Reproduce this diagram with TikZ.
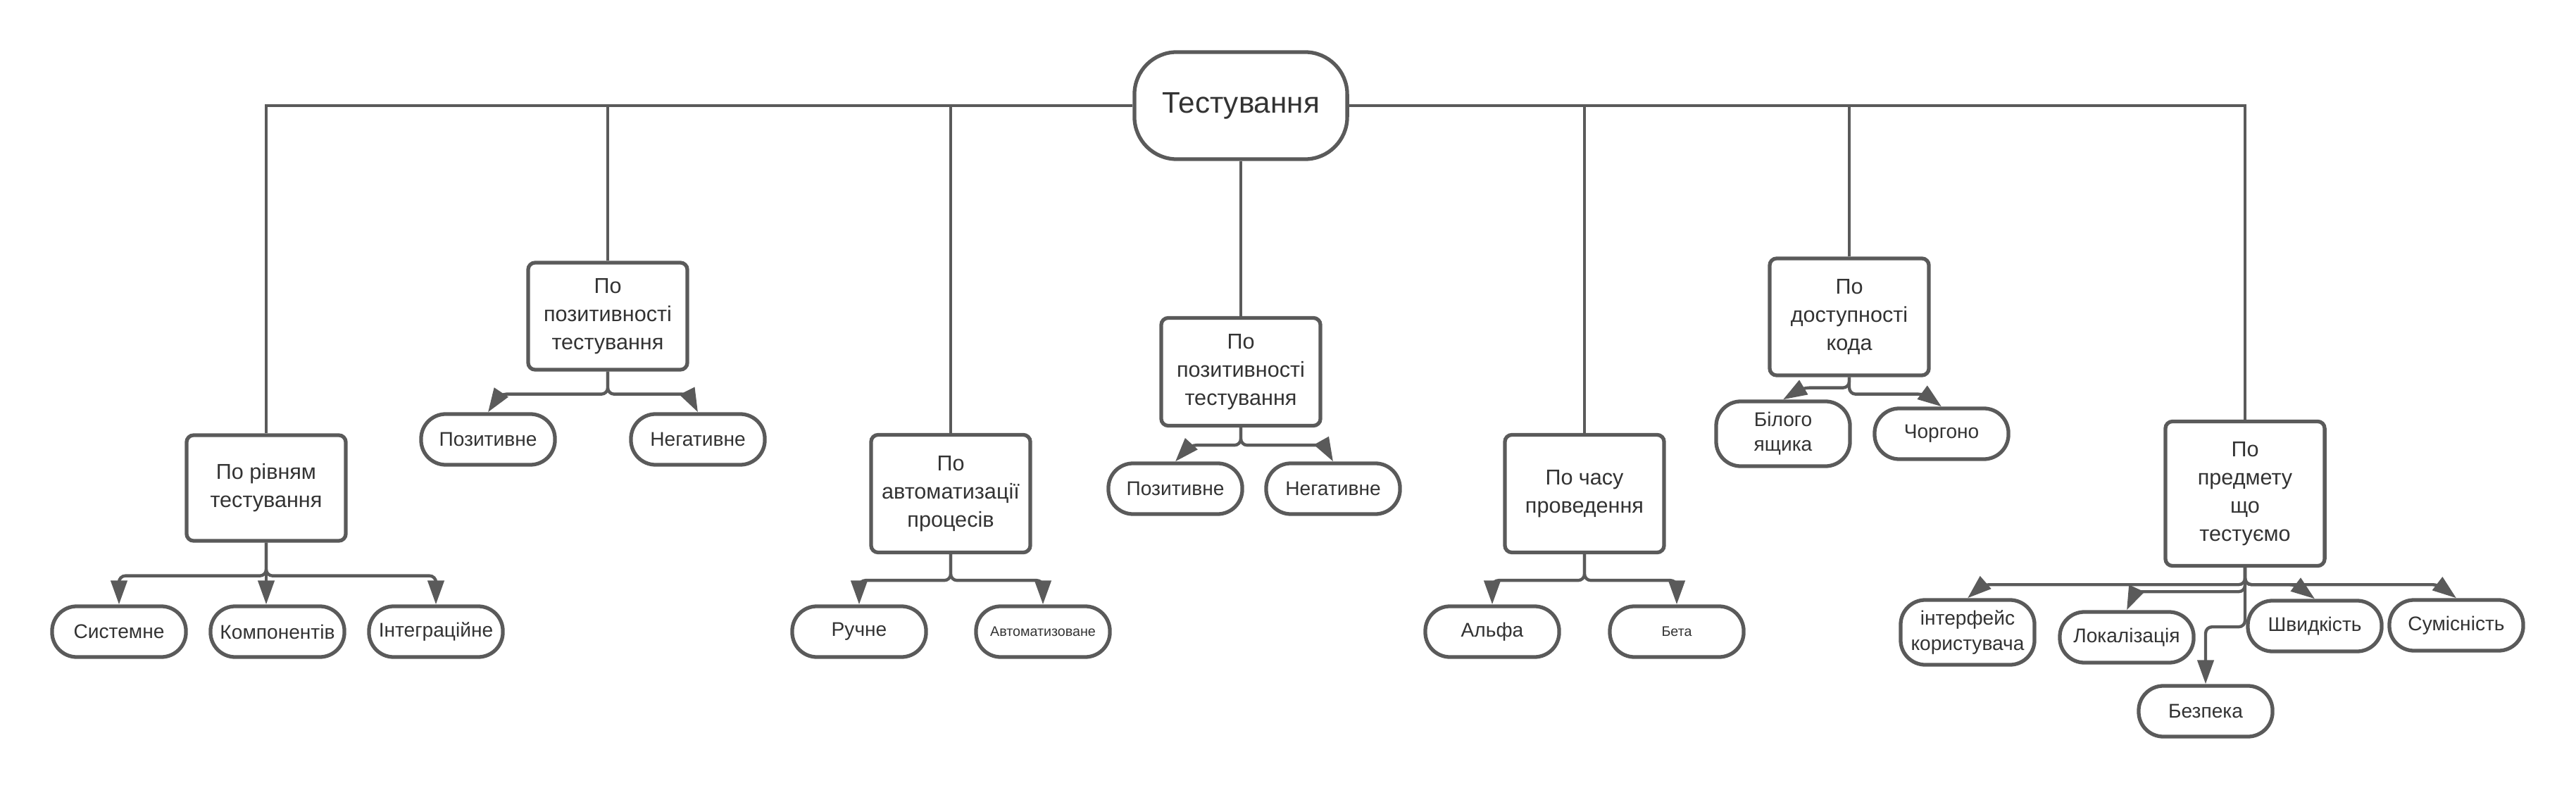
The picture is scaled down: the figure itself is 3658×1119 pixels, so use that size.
\documentclass[tikz,border=0pt]{standalone}
\usepackage{fontspec}
\setmainfont{Liberation Sans}
\usetikzlibrary{arrows.meta,calc}
\definecolor{linegray}{HTML}{5A5A5A}
\definecolor{textgray}{HTML}{333333}
\tikzset{
  root/.style={draw=linegray,line width=1.5pt,fill=white,rounded corners=0.6cm,
    minimum width=3.02cm,minimum height=1.52cm,text=textgray,
    font=\fontsize{12}{14}\selectfont},
  catbox/.style={draw=linegray,line width=1.5pt,fill=white,rounded corners=0.1cm,
    minimum width=2.26cm,inner xsep=1pt,align=center,text=textgray,
    font=\fontsize{8.7}{11.4}\selectfont},
  leaf/.style={draw=linegray,line width=1.5pt,fill=white,rounded corners=0.35cm,
    minimum width=1.9cm,minimum height=0.72cm,inner xsep=1pt,align=center,
    text=textgray,font=\fontsize{8}{10}\selectfont},
  tinyleaf/.style={leaf,font=\fontsize{5.6}{7}\selectfont},
  trunk/.style={draw=linegray,line width=1.25pt},
  conn/.style={draw=linegray,line width=1.25pt,rounded corners=0.09cm,
    -{Triangle[length=0.34cm,width=0.23cm]}}
}

\begin{document}
\begin{tikzpicture}[x=0.01cm,y=-0.01cm]
  \useasboundingbox (0,0) rectangle (3658,1119);

  % -- Root of the tree --
  \node[root] (root) at (1762,150) {Тестування};

  % -- Second level: the ways of classifying --
  \node[catbox,minimum height=1.50cm] (lvl)  at (378,693)  {По рівням\\тестування};
  \node[catbox,minimum height=1.52cm] (pos)  at (863,449)  {По\\позитивності\\тестування};
  \node[catbox,minimum height=1.67cm] (auto) at (1350,701) {По\\автоматизації\\процесів};
  \node[catbox,minimum height=1.53cm] (posb) at (1762,528) {По\\позитивності\\тестування};
  \node[catbox,minimum height=1.67cm] (time) at (2250,701) {По часу\\проведення};
  \node[catbox,minimum height=1.66cm] (code) at (2626,450) {По\\доступності\\кода};
  \node[catbox,minimum height=2.05cm] (subj) at (3188,701) {По\\предмету\\що\\тестуємо};

  % -- Trunk lines from the root --
  \foreach \b in {lvl,pos,auto}
    \draw[trunk] (\b.north) |- (root.west);
  \foreach \b in {time,code,subj}
    \draw[trunk] (\b.north) |- (root.east);
  \draw[trunk] (root.south) -- (posb.north);

  % -- Leaves --
  \node[leaf] (sys)  at (169,897) {Системне};
  \node[leaf] (comp) at (394,897) {Компонентів};
  \node[leaf] (intg) at (619,897) {Інтеграційне};

  \node[leaf] (posA) at (693,624) {Позитивне};
  \node[leaf] (negA) at (991,624) {Негативне};

  \node[leaf]     (man) at (1220,897) {Ручне};
  \node[tinyleaf] (aut) at (1481,897) {Автоматизоване};

  \node[leaf] (posB) at (1669,694) {Позитивне};
  \node[leaf] (negB) at (1893,694) {Негативне};

  \node[leaf]     (alpha) at (2119,897) {Альфа};
  \node[tinyleaf] (beta)  at (2381,897) {Бета};

  \node[leaf,minimum height=0.92cm] (white) at (2532,616) {Білого\\ящика};
  \node[leaf] (queue) at (2757,616) {Чоргоно};

  \node[leaf,minimum height=0.92cm] (ui) at (2794,898) {інтерфейс\\користувача};
  \node[leaf] (loc)    at (3020,905)  {Локалізація};
  \node[leaf] (sec)    at (3132,1010) {Безпека};
  \node[leaf] (speed)  at (3287,889)  {Швидкість};
  \node[leaf] (compat) at (3488,888)  {Сумісність};

  % -- Branch points under each box --
  \coordinate (lvlbr)  at ($(lvl.south)+(0,47)$);
  \coordinate (posbr)  at ($(pos.south)+(0,32)$);
  \coordinate (autobr) at ($(auto.south)+(0,37)$);
  \coordinate (posbbr) at ($(posb.south)+(0,25)$);
  \coordinate (timebr) at ($(time.south)+(0,37)$);
  \coordinate (codebl) at ($(code.south)+(0,15)$);
  \coordinate (codebr) at ($(code.south)+(0,24)$);
  \coordinate (subjbr) at ($(subj.south)+(0,24)$);
  \coordinate (subjbl) at ($(subj.south)+(0,34)$);
  \coordinate (subjbd) at ($(subj.south)+(0,84)$);

  % -- Connectors --
  \draw[conn] (lvl.south) -- (lvlbr) -| (sys.north);
  \draw[conn] (lvl.south) -- (lvl.south |- comp.north);
  \draw[conn] (lvl.south) -- (lvlbr) -| (intg.north);

  \draw[conn] (pos.south) -- (posbr) -- ($(posbr -| posA.north)+(17,0)$) -- (posA.north);
  \draw[conn] (pos.south) -- (posbr) -- ($(posbr -| negA.north)+(-13,0)$) -- (negA.north);

  \draw[conn] (auto.south) -- (autobr) -| (man.north);
  \draw[conn] (auto.south) -- (autobr) -| (aut.north);

  \draw[conn] (posb.south) -- (posbbr) -- ($(posbbr -| posB.north)+(21,0)$) -- (posB.north);
  \draw[conn] (posb.south) -- (posbbr) -- ($(posbbr -| negB.north)+(-13,0)$) -- (negB.north);

  \draw[conn] (time.south) -- (timebr) -| (alpha.north);
  \draw[conn] (time.south) -- (timebr) -| (beta.north);

  \draw[conn] (code.south) -- (codebl) -- ($(codebl -| white.north)+(28,0)$) -- (white.north);
  \draw[conn] (code.south) -- (codebr) -- ($(codebr -| queue.north)+(-24,0)$) -- (queue.north);

  \draw[conn] (subj.south) -- (subjbr) -- ($(subjbr -| ui.north)+(22,0)$) -- (ui.north);
  \draw[conn] (subj.south) -- (subjbl) -- ($(subjbl -| loc.north)+(12,0)$) -- (loc.north);
  \draw[conn] (subj.south) -- (subjbd) -| (sec.north);
  \draw[conn] (subj.south) -- (subjbr) -- ($(subjbr -| speed.north)+(-27,0)$) -- (speed.north);
  \draw[conn] (subj.south) -- (subjbr) -- ($(subjbr -| compat.north)+(-25,0)$) -- (compat.north);

\end{tikzpicture}
\end{document}
